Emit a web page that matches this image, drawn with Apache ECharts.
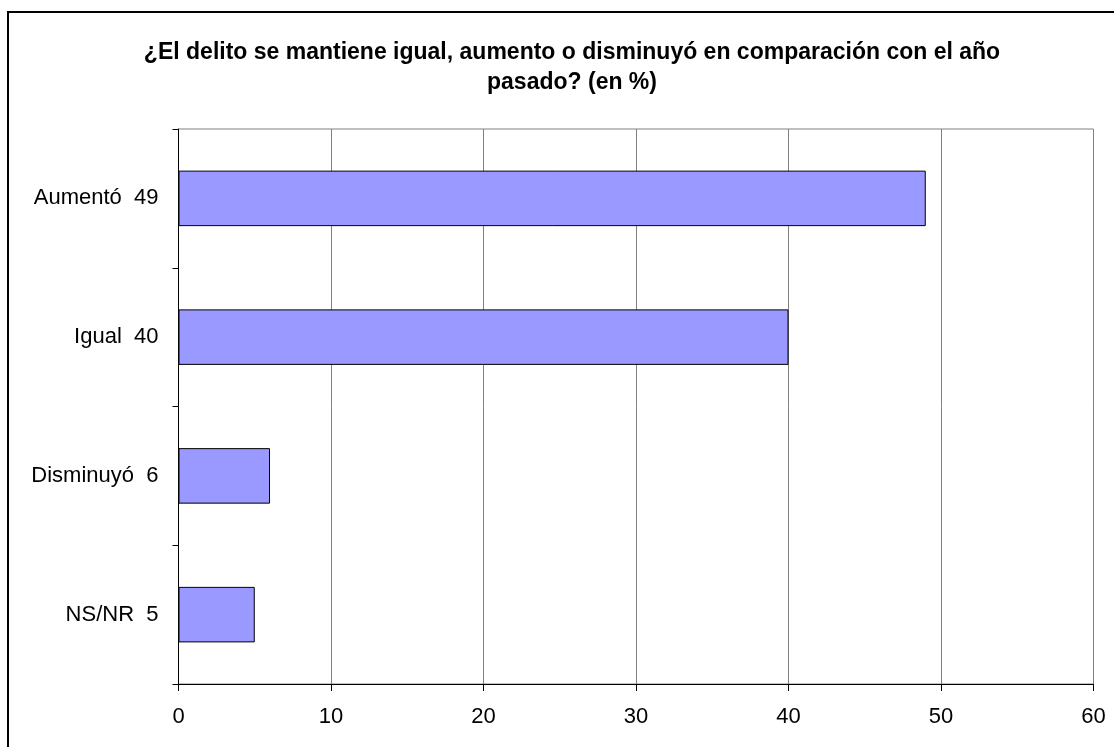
<!DOCTYPE html>
<html>
<head>
<meta charset="utf-8">
<script src="https://cdn.jsdelivr.net/npm/echarts@6/dist/echarts.min.js"></script>
<style>html,body{margin:0;padding:0;background:#fff;}#c{width:1114px;height:747px;}</style>
</head>
<body>
<div id="c"></div>
<script>
const categories = ['Aumentó', 'Igual', 'Disminuyó', 'NS/NR'];
const values = [49, 40, 6, 5];
const xTicks = [0, 10, 20, 30, 40, 50, 60];
const titleText = '¿El delito se mantiene igual, aumento o disminuyó en comparación con el año\npasado? (en %)';

const chart = echarts.init(document.getElementById('c'));
chart.setOption({
  animation: false,
  backgroundColor: '#ffffff',
  title: {
    text: titleText,
    left: 567,
    top: 33,
    textAlign: 'center',
    textStyle: { fontFamily: 'Liberation Sans, Arial', fontWeight: 'bold', fontSize: 23, lineHeight: 30, color: '#000' }
  },
  graphic: [{
    type: 'rect',
    shape: { x: 8, y: 12, width: 1130, height: 760 },
    style: { fill: 'none', stroke: '#000', lineWidth: 2 },
    silent: true
  }],
  grid: {
    left: 178.5, right: 20.5, top: 129, bottom: 63,
    show: true, borderColor: '#808080', borderWidth: 1
  },
  xAxis: {
    type: 'value',
    min: xTicks[0], max: xTicks[xTicks.length - 1], interval: 10,
    axisLine: { show: true, lineStyle: { color: '#000', width: 1 } },
    axisTick: { show: true, length: 7, lineStyle: { color: '#000' } },
    axisLabel: { fontFamily: 'Liberation Sans, Arial', fontSize: 22, color: '#000', margin: 22 },
    splitLine: { show: true, lineStyle: { color: '#808080', width: 1 } }
  },
  yAxis: {
    type: 'category',
    inverse: true,
    data: categories,
    axisLine: { show: true, lineStyle: { color: '#000', width: 1 } },
    axisTick: { show: true, length: 6, alignWithLabel: false, lineStyle: { color: '#000' } },
    axisLabel: {
      fontFamily: 'Liberation Sans, Arial', fontSize: 22, color: '#000', margin: 20,
      formatter: function (name, idx) { return name + '  ' + values[idx]; }
    },
    splitLine: { show: false }
  },
  series: [{
    type: 'bar',
    data: values,
    barWidth: '40%',
    itemStyle: { color: '#9999FF', borderColor: '#000', borderWidth: 1 }
  }]
});
</script>
</body>
</html>
